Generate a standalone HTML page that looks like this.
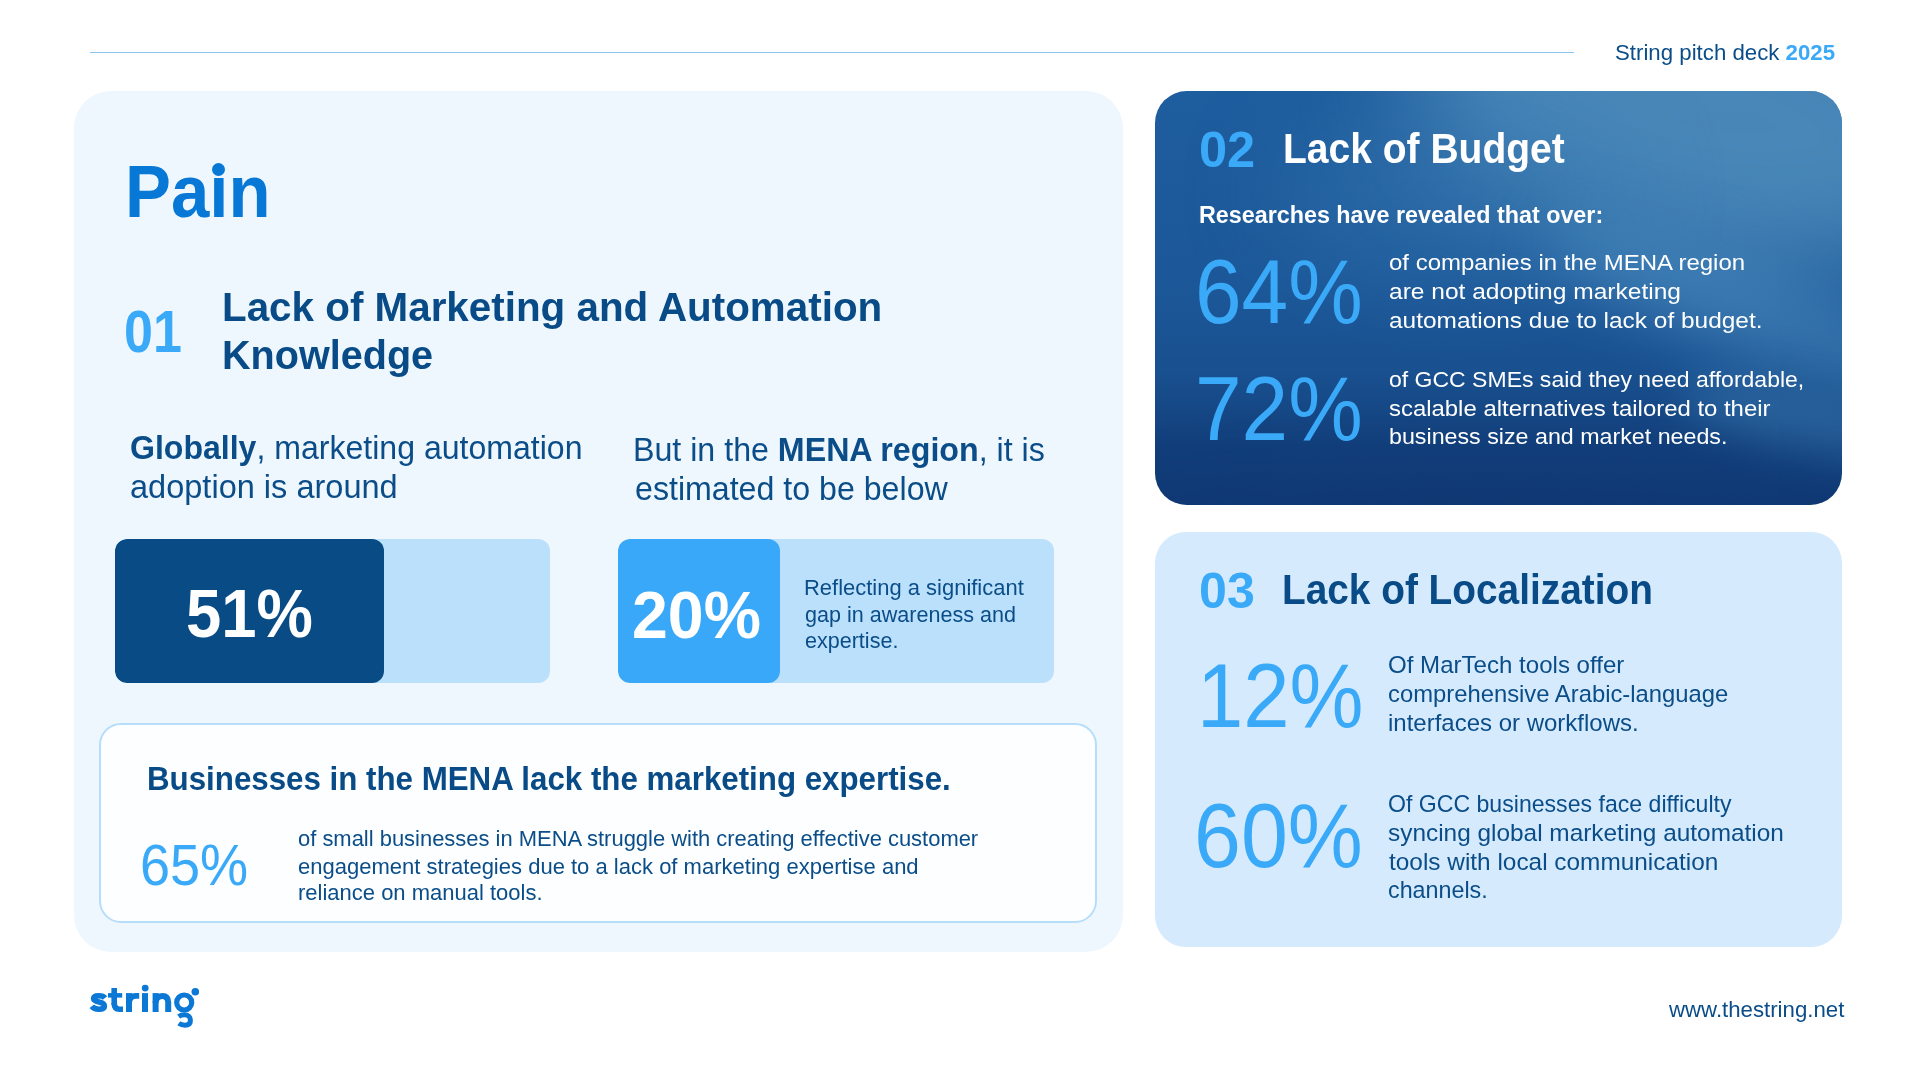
<!DOCTYPE html><html><head><meta charset="utf-8"><style>
*{margin:0;padding:0;box-sizing:border-box}
html,body{width:1920px;height:1080px;overflow:hidden;background:#fff}
body{position:relative;font-family:"Liberation Sans",sans-serif}
.t{position:absolute;white-space:nowrap;line-height:1;transform-origin:0 0}
.t b{font-weight:700}
.abs{position:absolute}
</style></head><body>
<div class="abs" style="left:90px;top:52px;width:1484px;height:1px;background:#88c3ee"></div>
<div class="abs" style="left:74px;top:91px;width:1049px;height:861px;border-radius:37px;background:#eff7fe"></div>
<div class="abs" style="left:115px;top:539px;width:435px;height:144px;border-radius:12px;background:#bae0fb;overflow:hidden">
  <div class="abs" style="left:0;top:0;width:269px;height:144px;border-radius:12px;background:#084b85"></div>
</div>
<div class="abs" style="left:618px;top:539px;width:436px;height:144px;border-radius:12px;background:#bae0fb;overflow:hidden">
  <div class="abs" style="left:0;top:0;width:162px;height:144px;border-radius:12px;background:#3aa8f8"></div>
</div>
<div class="abs" style="left:99px;top:723px;width:998px;height:200px;border-radius:22px;background:#fcfeff;border:2px solid #b6defb"></div>
<div class="abs" id="dark" style="left:1155px;top:91px;width:687px;height:414px;border-radius:32px;overflow:hidden;background:linear-gradient(180deg,#1e5d9e 0%,#1c5899 45%,#19508f 68%,#123f7b 86%,#103b76 100%)">
 <div class="abs" style="left:250px;top:-130px;width:580px;height:300px;border-radius:50%;background:#5a98c3;opacity:.72;filter:blur(55px);transform:rotate(12deg)"></div>
 <div class="abs" style="left:120px;top:20px;width:360px;height:160px;border-radius:50%;background:#3a7ab2;opacity:.45;filter:blur(50px)"></div>
 <div class="abs" style="left:380px;top:170px;width:420px;height:90px;border-radius:50%;background:#4a8cc0;opacity:.55;filter:blur(30px);transform:rotate(22deg)"></div>
 <div class="abs" style="left:520px;top:300px;width:260px;height:60px;border-radius:50%;background:#3b7bb2;opacity:.5;filter:blur(20px);transform:rotate(12deg)"></div>
 <div class="abs" style="left:-120px;top:380px;width:900px;height:120px;border-radius:50%;background:#0e3570;opacity:.45;filter:blur(30px)"></div>
</div>
<div class="abs" style="left:211.8px;top:162.8px;width:13px;height:13px;border-radius:50%;background:#0878d6"></div>
<div class="abs" style="left:1155px;top:532px;width:687px;height:415px;border-radius:31px;background:#d5ebfd"></div>

<svg class="abs" style="left:0;top:0" width="1920" height="1080" viewBox="0 0 1920 1080">
 <g fill="#0b78d6" stroke="none">
  <path d="M105 998 C104 996.6 101.6 995.8 98.6 995.8 C95.6 995.8 93.6 996.8 93.6 998.6 C93.6 1000.6 96 1001.4 99 1002 C102.4 1002.7 104.4 1003.6 104.4 1006 C104.4 1008.2 102 1009.2 98.8 1009.2 C95.6 1009.2 93.2 1008.1 91.8 1006.3" fill="none" stroke="#0b78d6" stroke-width="5.6"/>
  <rect x="111.4" y="988" width="5.6" height="17"/>
  <path d="M114.2 1003 Q114.2 1009.2 119.6 1009.2 L123 1009.2" fill="none" stroke="#0b78d6" stroke-width="5.6"/>
  <rect x="108" y="993.1" width="14.2" height="4.5"/>
  <rect x="126" y="993.1" width="6" height="18.9"/>
  <path d="M129 1003 Q129.5 995.9 136 995.9 L139.2 995.9" fill="none" stroke="#0b78d6" stroke-width="5.8"/>
  <rect x="142" y="993.1" width="6" height="18.9"/>
  <circle cx="145.2" cy="988.1" r="3.4"/>
  <rect x="152.6" y="993.1" width="6" height="18.9"/><path d="M155.6 1003 Q155.8 995.9 162.4 995.9 Q168.2 995.9 168.2 1002.6 L168.2 1012" fill="none" stroke="#0b78d6" stroke-width="6"/>
  <circle cx="184.2" cy="1002.5" r="7.5" fill="none" stroke="#0b78d6" stroke-width="5.2"/>
  <path d="M178.6 1016.5 C180.2 1015.4 182.4 1014.8 184.8 1014.8 C188.4 1014.8 190.4 1017.4 190.4 1020.6 C190.4 1023.8 188.2 1025.2 185 1025.2 C182.6 1025.2 180.4 1024.5 178.8 1023.3" fill="none" stroke="#0b78d6" stroke-width="5"/>
  <circle cx="195.3" cy="991.8" r="3.8"/>
 </g>
</svg>
<div class="t" id="hdr" style="left:1615.02px;top:41.04px;font-size:22.754px;font-weight:400;color:#0a4d88;transform:scaleX(0.9777)">String pitch deck <b style="color:#3aa9f8">2025</b></div>
<div class="t" id="pain" style="left:125.34px;top:155.03px;font-size:73.913px;font-weight:700;color:#0878d6;transform:scaleX(0.9320)">Pa&#305;n</div>
<div class="t" id="n01" style="left:124.23px;top:302.91px;font-size:58.696px;font-weight:700;color:#3aa9f8;transform:scaleX(0.8871)">01</div>
<div class="t" id="t1a" style="left:222.07px;top:287.24px;font-size:41.304px;font-weight:700;color:#084b87;transform:scaleX(0.9776)">Lack of Marketing and Automation</div>
<div class="t" id="t1b" style="left:222.12px;top:335.04px;font-size:41.304px;font-weight:700;color:#084b87;transform:scaleX(0.9583)">Knowledge</div>
<div class="t" id="g1" style="left:130.01px;top:431.90px;font-size:32.428px;font-weight:400;color:#0a4d88;transform:scaleX(0.9890)"><b>Globally</b>, marketing automation</div>
<div class="t" id="g2" style="left:130.00px;top:470.65px;font-size:32.428px;font-weight:400;color:#0a4d88;transform:scaleX(1.0038)">adoption is around</div>
<div class="t" id="b1" style="left:633.02px;top:433.90px;font-size:32.428px;font-weight:400;color:#0a4d88;transform:scaleX(0.9927)">But in the <b>MENA region</b>, it is</div>
<div class="t" id="b2" style="left:635.01px;top:473.15px;font-size:32.428px;font-weight:400;color:#0a4d88;transform:scaleX(0.9920)">estimated to be below</div>
<div class="t" id="p51" style="left:185.63px;top:580.00px;font-size:67.754px;font-weight:700;color:#ffffff;transform:scaleX(0.9356)">51%</div>
<div class="t" id="p20" style="left:632.05px;top:582.78px;font-size:65.942px;font-weight:700;color:#ffffff;transform:scaleX(0.9766)">20%</div>
<div class="t" id="r1" style="left:803.94px;top:578.25px;font-size:21.377px;font-weight:400;color:#0a4d88;transform:scaleX(1.0283)">Reflecting a significant</div>
<div class="t" id="r2" style="left:804.99px;top:605.00px;font-size:21.377px;font-weight:400;color:#0a4d88;transform:scaleX(1.0097)">gap in awareness and</div>
<div class="t" id="r3" style="left:804.99px;top:631.25px;font-size:21.377px;font-weight:400;color:#0a4d88;transform:scaleX(1.0083)">expertise.</div>
<div class="t" id="bus" style="left:146.91px;top:761.27px;font-size:34.058px;font-weight:700;color:#084b87;transform:scaleX(0.9188)">Businesses in the MENA lack the marketing expertise.</div>
<div class="t" id="p65" style="left:139.70px;top:836.53px;font-size:57.971px;font-weight:400;color:#3aa9f8;transform:scaleX(0.9324)">65%</div>
<div class="t" id="s1" style="left:297.99px;top:828.20px;font-size:21.739px;font-weight:400;color:#0a4d88;transform:scaleX(1.0104)">of small businesses in MENA struggle with creating effective customer</div>
<div class="t" id="s2" style="left:297.99px;top:856.20px;font-size:21.739px;font-weight:400;color:#0a4d88;transform:scaleX(1.0139)">engagement strategies due to a lack of marketing expertise and</div>
<div class="t" id="s3" style="left:297.99px;top:882.20px;font-size:21.739px;font-weight:400;color:#0a4d88;transform:scaleX(1.0126)">reliance on manual tools.</div>
<div class="t" id="n02" style="left:1198.55px;top:124.95px;font-size:49.203px;font-weight:700;color:#3aa9f8;transform:scaleX(1.0275)">02</div>
<div class="t" id="t2" style="left:1282.71px;top:128.02px;font-size:42.029px;font-weight:700;color:#ffffff;transform:scaleX(0.9283)">Lack of Budget</div>
<div class="t" id="res" style="left:1198.68px;top:202.79px;font-size:24.348px;font-weight:700;color:#ffffff;transform:scaleX(0.9579)">Researches have revealed that over:</div>
<div class="t" id="p64" style="left:1195.43px;top:245.67px;font-size:91.703px;font-weight:400;color:#3aa9f8;transform:scaleX(0.9143)">64%</div>
<div class="t" id="a1" style="left:1388.95px;top:250.56px;font-size:22.850px;font-weight:400;color:#ffffff;transform:scaleX(1.0504)">of companies in the MENA region</div>
<div class="t" id="a2" style="left:1388.93px;top:279.56px;font-size:22.850px;font-weight:400;color:#ffffff;transform:scaleX(1.0743)">are not adopting marketing</div>
<div class="t" id="a3" style="left:1388.93px;top:308.56px;font-size:22.850px;font-weight:400;color:#ffffff;transform:scaleX(1.0694)">automations due to lack of budget.</div>
<div class="t" id="p72" style="left:1195.43px;top:362.97px;font-size:91.703px;font-weight:400;color:#3aa9f8;transform:scaleX(0.9143)">72%</div>
<div class="t" id="c1" style="left:1388.99px;top:367.96px;font-size:22.850px;font-weight:400;color:#ffffff;transform:scaleX(1.0073)">of GCC SMEs said they need affordable,</div>
<div class="t" id="c2" style="left:1388.95px;top:397.26px;font-size:22.850px;font-weight:400;color:#ffffff;transform:scaleX(1.0468)">scalable alternatives tailored to their</div>
<div class="t" id="c3" style="left:1388.98px;top:425.26px;font-size:22.850px;font-weight:400;color:#ffffff;transform:scaleX(1.0173)">business size and market needs.</div>
<div class="t" id="n03" style="left:1198.66px;top:565.65px;font-size:49.203px;font-weight:700;color:#3aa9f8;transform:scaleX(1.0196)">03</div>
<div class="t" id="t3" style="left:1282.23px;top:569.02px;font-size:42.029px;font-weight:700;color:#084b87;transform:scaleX(0.9235)">Lack of Localization</div>
<div class="t" id="p12" style="left:1196.65px;top:649.67px;font-size:91.703px;font-weight:400;color:#3aa9f8;transform:scaleX(0.9075)">12%</div>
<div class="t" id="d1" style="left:1387.96px;top:653.78px;font-size:23.064px;font-weight:400;color:#0a4d88;transform:scaleX(1.0444)">Of MarTech tools offer</div>
<div class="t" id="d2" style="left:1387.97px;top:682.78px;font-size:23.064px;font-weight:400;color:#0a4d88;transform:scaleX(1.0335)">comprehensive Arabic-language</div>
<div class="t" id="d3" style="left:1387.96px;top:711.78px;font-size:23.064px;font-weight:400;color:#0a4d88;transform:scaleX(1.0408)">interfaces or workflows.</div>
<div class="t" id="p60" style="left:1194.40px;top:789.67px;font-size:91.703px;font-weight:400;color:#3aa9f8;transform:scaleX(0.9200)">60%</div>
<div class="t" id="e1" style="left:1388.00px;top:792.78px;font-size:23.064px;font-weight:400;color:#0a4d88;transform:scaleX(1.0020)">Of GCC businesses face difficulty</div>
<div class="t" id="e2" style="left:1387.94px;top:821.78px;font-size:23.064px;font-weight:400;color:#0a4d88;transform:scaleX(1.0583)">syncing global marketing automation</div>
<div class="t" id="e3" style="left:1389.00px;top:851.08px;font-size:23.064px;font-weight:400;color:#0a4d88;transform:scaleX(1.0581)">tools with local communication</div>
<div class="t" id="e4" style="left:1387.99px;top:879.08px;font-size:23.064px;font-weight:400;color:#0a4d88;transform:scaleX(1.0104)">channels.</div>
<div class="t" id="url" style="left:1669.00px;top:999.46px;font-size:22.609px;font-weight:400;color:#0a4d88;transform:scaleX(0.9831)">www.thestring.net</div></body></html>
